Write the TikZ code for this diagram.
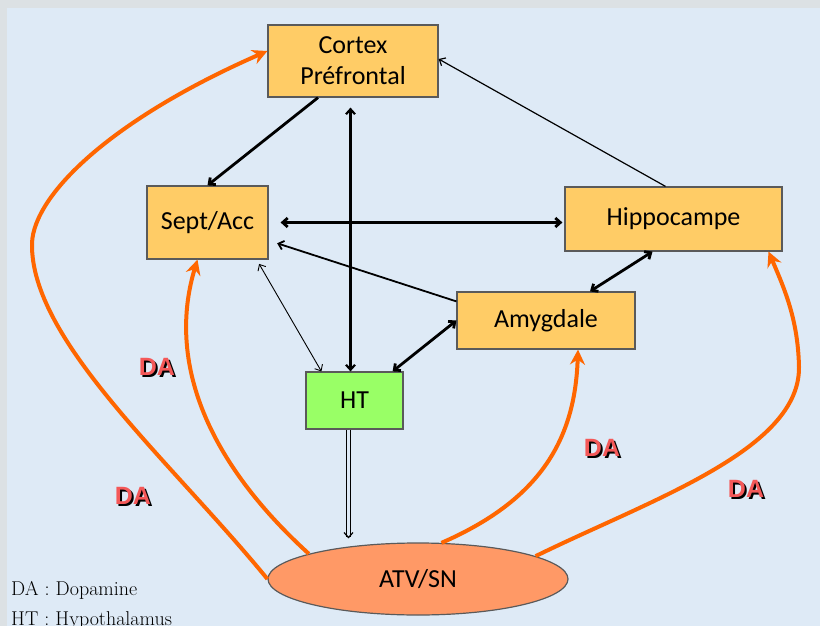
\documentclass[tikz,border=0pt]{standalone}
\usepackage{fontspec}
\newfontfamily\boxfont{Carlito}
\newfontfamily\dafont{Liberation Sans}
\usetikzlibrary{arrows.meta,shapes.geometric}
\definecolor{fondbleu}{HTML}{DEEAF6}
\definecolor{fondgris}{HTML}{DCE1E4}
\definecolor{boite}{HTML}{FFCC66}
\definecolor{bordure}{HTML}{5A5A5A}
\definecolor{vert}{HTML}{99FF66}
\definecolor{saumon}{HTML}{FF9966}
\definecolor{daorange}{HTML}{FF6600}
\definecolor{dared}{HTML}{F45858}
\newcommand{\ombre}[1]{\makebox[0pt][l]{\kern2pt\raisebox{-2pt}{\color{black}#1}}#1}

\begin{document}
\begin{tikzpicture}[
			x=1pt, y=-1pt,
			box/.style={rectangle, draw=bordure, line width=1.2pt, fill=boite, align=center, inner sep=0pt, font={\boxfont\fontsize{26}{31}\selectfont}},
			lien/.style={draw=black, line width=1.2pt, -{Straight Barb[length=5pt,width=9pt]}},
			fort/.style={lien, line width=2.8pt},
			da/.style={draw=daorange, line width=4pt, -{Stealth[length=15pt,width=15pt,inset=5pt]}},
			dalbl/.style={text=dared, inner sep=0pt, font={\dafont\bfseries\fontsize{25}{30}\selectfont}},
			legende/.style={anchor=base west, inner sep=0pt, font={\fontsize{20}{24}\selectfont}}
		]
		% Fond
		\useasboundingbox (0,0) rectangle (820,626);
		\fill[fondgris] (0,0) rectangle (820,626);
		\fill[fondbleu] (7,8) rectangle (820,626);

		% Noeuds
		\node[box, minimum width=170pt, minimum height=72pt] (cortex) at (353,61) {Cortex\\Préfrontal};
		\node[box, minimum width=121pt, minimum height=73pt] (sept) at (207.5,222.5) {Sept/Acc};
		\node[box, minimum width=217pt, minimum height=64pt] (hippo) at (673.5,219) {Hippocampe};
		\node[box, minimum width=178pt, minimum height=57pt] (amyg) at (546,320.5) {Amygdale};
		\node[box, fill=vert, minimum width=97pt, minimum height=57pt] (ht) at (354.5,400.5) {HT};
		\node[box, ellipse, fill=saumon, minimum width=300pt, minimum height=72pt] (atv) at (418,579) {ATV/SN};

		% Fleches
		\draw[fort] ([xshift=-35pt]cortex.south) -- (sept.north);
		\draw[lien, line width=2.2pt, {Straight Barb[length=5pt,width=9pt]}-{Straight Barb[length=5pt,width=9pt]}, shorten >=10pt] ([xshift=-4pt]ht.north) -- ([xshift=-4pt]ht.north |- cortex.south);
		\draw[fort, {Straight Barb[length=5pt,width=9pt]}-{Straight Barb[length=5pt,width=9pt]}, shorten <=12pt, shorten >=2pt] (sept.east) -- (sept.east -| hippo.west);
		\draw[lien] ([xshift=-8pt]hippo.north) -- ([yshift=2pt]cortex.east);
		\draw[lien, line width=1.8pt, shorten >=9pt] ([yshift=-10pt]amyg.north west) -- ([yshift=-18pt]sept.east);
		\draw[lien, line width=0.9pt, {Straight Barb[length=5pt,width=9pt]}-{Straight Barb[length=5pt,width=9pt]}, shorten <=5pt] ([xshift=-12pt]sept.south east) -- ([xshift=16pt]ht.north west);
		\draw[fort, {Straight Barb[length=5pt,width=9pt]}-{Straight Barb[length=5pt,width=9pt]}] (amyg.west) -- ([xshift=-11pt]ht.north east);
		\draw[fort, {Straight Barb[length=5pt,width=9pt]}-{Straight Barb[length=5pt,width=9pt]}] ([xshift=-21pt]hippo.south) -- ([xshift=44pt]amyg.north);
		\draw[lien, line width=1.2pt, double=fondbleu, double distance=3pt, shorten >=4pt] ([xshift=-6pt]ht.south) -- ([xshift=-6pt]ht.south |- atv.north);

		% Dopamine
		\draw[da] (atv.180) .. controls (170,460) and (30,340) .. (32,243) .. controls (34,195) and (110,120) .. ([yshift=10pt]cortex.west);
		\draw[da] (atv.167) .. controls (195,450) and (170,350) .. ([xshift=-10pt]sept.south);
		\draw[da] (atv.57) .. controls (540,500) and (575,440) .. ([xshift=32pt]amyg.south);
		\draw[da] (atv.11) .. controls (650,500) and (800,450) .. (799,367) .. controls (798,320) and (785,290) .. ([xshift=95pt]hippo.south);

		\node[dalbl] (da1) at (157,368) {\ombre{DA}};
		\node[dalbl] (da2) at (133,497) {\ombre{DA}};
		\node[dalbl] (da3) at (602,449) {\ombre{DA}};
		\node[dalbl] (da4) at (746,490) {\ombre{DA}};

		% Legende
		\node[legende] (leg1) at (11,595) {DA : Dopamine};
		\node[legende] (leg2) at (11,625) {HT : Hypothalamus};
	\end{tikzpicture}
\end{document}
